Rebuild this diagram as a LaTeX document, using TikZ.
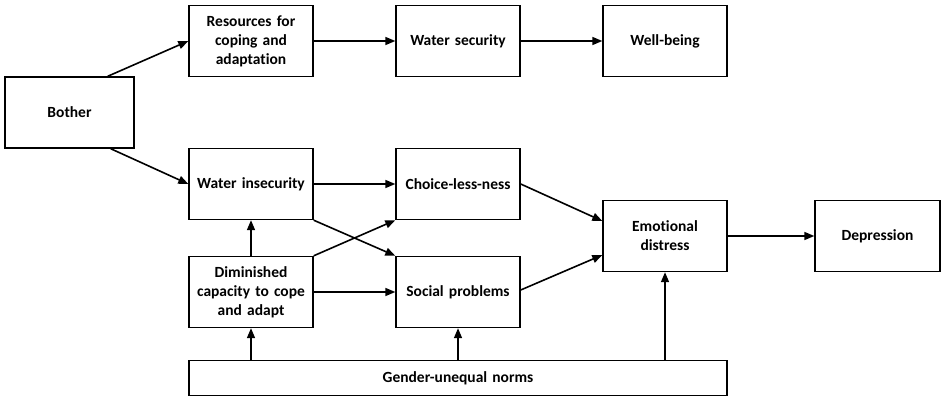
\documentclass[tikz,border=0pt]{standalone}
\usepackage{fontspec}
\setmainfont{Carlito}[RawFeature=-liga]
\usetikzlibrary{arrows.meta}
\begin{document}
\begin{tikzpicture}[x=1pt,y=-1pt,
  box/.style={draw,line width=1.4pt,inner sep=2pt,minimum width=124pt,minimum height=71pt,
    align=center,text width=118pt,font=\bfseries\fontsize{15.5}{19}\selectfont},
  arr/.style={line width=1.6pt,-{Triangle[length=10pt,width=8pt]}}]
\useasboundingbox (0,0) rectangle (945,401);
\node[box,minimum width=129pt] (bother) at (69.5,112.5) {Bother};
\node[box] (res) at (251,41) {Resources for\\coping and\\adaptation};
\node[box] (wsec) at (458,41) {Water security};
\node[box] (well) at (665,41) {Well-being};
\node[box] (wins) at (251,184) {Water insecurity};
\node[box] (dim) at (251,292) {Diminished\\capacity to cope\\and adapt};
\node[box] (choice) at (458,184) {Choice-less-ness};
\node[box] (social) at (458,292) {Social problems};
\node[box] (emo) at (665,236) {Emotional\\distress};
\node[box,minimum width=125pt] (dep) at (877.5,236) {Depression};
\node[box,minimum width=538pt,minimum height=35pt,text width=500pt] (gender) at (458,378) {Gender-unequal norms};
\draw[arr] ([xshift=-27pt]bother.north east) -- (res.west);
\draw[arr] ([xshift=-24pt]bother.south east) -- (wins.west);
\draw[arr] (res) -- (wsec);
\draw[arr] (wsec) -- (well);
\draw[arr] (wins) -- (choice);
\draw[arr] (wins.south east) -- (social.north west);
\draw[arr] (dim.north east) -- (choice.south west);
\draw[arr] (dim) -- (social);
\draw[arr] (dim) -- (wins);
\draw[arr] (dim.south |- gender.north) -- (dim.south);
\draw[arr] (social.south |- gender.north) -- (social.south);
\draw[arr] (emo.south |- gender.north) -- (emo.south);
\draw[arr] (choice.east) -- ([yshift=15pt]emo.west);
\draw[arr] ([yshift=2pt]social.east) -- ([yshift=-19pt]emo.west);
\draw[arr] (emo) -- (dep);
\end{tikzpicture}
\end{document}
